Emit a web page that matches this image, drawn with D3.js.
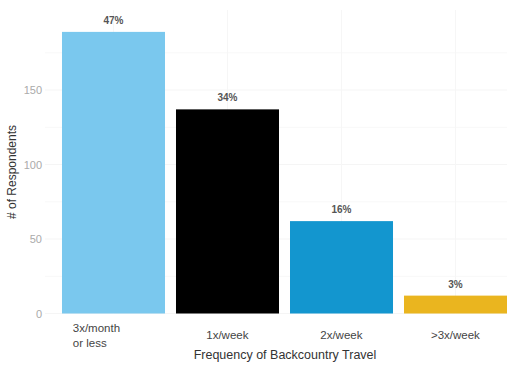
<!DOCTYPE html>
<html>
<head>
<meta charset="utf-8">
<script src="https://cdn.jsdelivr.net/npm/d3@7"></script>
<style>
  body { margin: 0; background: #fff; }
  svg { display: block; font-family: "Liberation Sans", Arial, sans-serif; }
</style>
</head>
<body>
<div id="grafico"></div>
<script>
// dados do gráfico
var categorias = ['3x/month\nor less', '1x/week', '2x/week', '>3x/week'];
var respondentes = [189, 137, 62, 12];
var percentuais = ['47%', '34%', '16%', '3%'];
var cores = ['#7ac8ee', '#000000', '#1396cf', '#eab51f'];
var ticksY = [0, 50, 100, 150];
var ticksMenores = [25, 75, 125, 175];

var largura = 507, altura = 365;

var svg = d3.select('#grafico')
    .append('svg')
    .attr('width', largura)
    .attr('height', altura);

// escalas (a área do gráfico passa um pouco da borda direita)
var x = d3.scaleBand()
    .domain(categorias)
    .range([45, 524])
    .paddingInner(0.0965)
    .paddingOuter(0.149);

var y = d3.scaleLinear()
    .domain([0, 200])
    .range([313.5, 15.5]);

// grade
svg.append('g').selectAll('line.menor')
    .data(ticksMenores)
    .enter()
    .append('line')
    .attr('x1', 45).attr('x2', largura)
    .attr('y1', function(d) { return y(d); })
    .attr('y2', function(d) { return y(d); })
    .style('stroke', '#f8f8f8')
    .style('stroke-width', 1);

svg.append('g').selectAll('line.maior')
    .data(ticksY)
    .enter()
    .append('line')
    .attr('x1', 45).attr('x2', largura)
    .attr('y1', function(d) { return y(d); })
    .attr('y2', function(d) { return y(d); })
    .style('stroke', '#f5f5f5')
    .style('stroke-width', 1);

svg.append('g').selectAll('line')
    .data(categorias)
    .enter()
    .append('line')
    .attr('x1', function(d) { return x(d) + x.bandwidth() / 2; })
    .attr('x2', function(d) { return x(d) + x.bandwidth() / 2; })
    .attr('y1', 10).attr('y2', 313.5)
    .style('stroke', '#f6f6f6')
    .style('stroke-width', 1);

// barras
svg.append('g').selectAll('rect')
    .data(respondentes)
    .enter()
    .append('rect')
    .attr('x', function(d, i) { return x(categorias[i]); })
    .attr('y', function(d) { return y(d); })
    .attr('width', x.bandwidth())
    .attr('height', function(d) { return y(0) - y(d); })
    .style('fill', function(d, i) { return cores[i]; });

// rótulos de percentual
svg.append('g').selectAll('text')
    .data(respondentes)
    .enter()
    .append('text')
    .text(function(d, i) { return percentuais[i]; })
    .attr('x', function(d, i) { return x(categorias[i]) + x.bandwidth() / 2; })
    .attr('y', function(d) { return y(d) - 8; })
    .attr('text-anchor', 'middle')
    .style('font-size', '10px')
    .style('font-weight', 'bold')
    .style('fill', '#555');

// eixo y
var eixoY = d3.axisLeft(y).tickValues(ticksY).tickSize(0).tickPadding(0);
svg.append('g')
    .attr('transform', 'translate(42,0)')
    .call(eixoY)
    .call(function(g) { g.select('.domain').remove(); })
    .selectAll('text')
    .style('font-size', '11px')
    .style('fill', '#aaa');

// eixo x (rótulos com mais de uma linha ficam alinhados à esquerda)
var rotulosX = svg.append('g').selectAll('text')
    .data(categorias)
    .enter()
    .append('text')
    .attr('y', 335)
    .style('font-size', '11.5px')
    .style('fill', '#444');

rotulosX.each(function(d) {
    var linhas = d.split('\n');
    var t = d3.select(this);
    var cx = x(d) + x.bandwidth() / 2;
    linhas.forEach(function(l, k) {
        t.append('tspan')
            .text(l)
            .attr('dy', k === 0 ? (-(linhas.length - 1) * 7.5 + 4) : 15);
    });
    var w = this.getBBox().width;
    t.selectAll('tspan').attr('x', cx - w / 2);
});

// títulos dos eixos
svg.append('text')
    .text('Frequency of Backcountry Travel')
    .attr('x', 285)
    .attr('y', 359)
    .attr('text-anchor', 'middle')
    .style('font-size', '12.5px')
    .style('fill', '#333');

svg.append('text')
    .text('# of Respondents')
    .attr('transform', 'translate(16,172) rotate(-90)')
    .attr('text-anchor', 'middle')
    .style('font-size', '12px')
    .style('fill', '#333');
</script>
</body>
</html>
